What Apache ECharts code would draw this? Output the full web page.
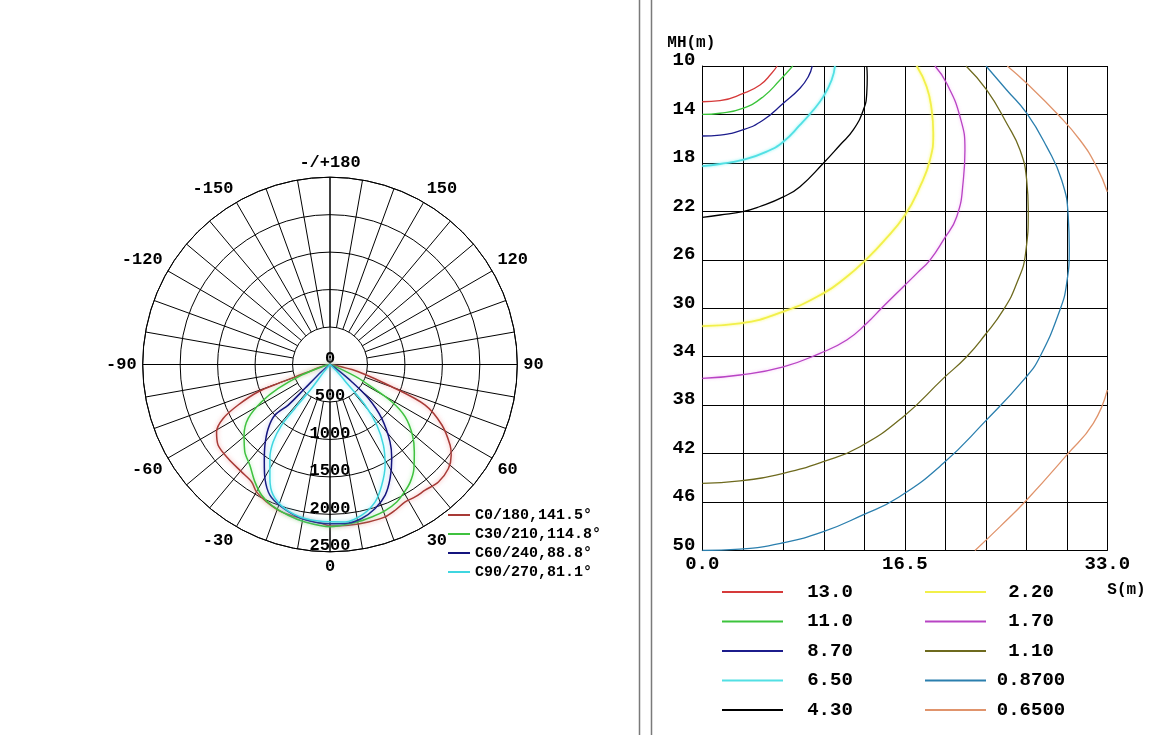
<!DOCTYPE html>
<html><head><meta charset="utf-8">
<script src="https://cdn.jsdelivr.net/npm/echarts@6/dist/echarts.min.js"></script>
<style>html,body{margin:0;padding:0;background:#fff}#c{width:1153px;height:735px}</style>
</head><body><div id="c"></div>
<script>
// ---------- Polar luminous-intensity curves: [gamma deg (0 = nadir, + = right side), intensity cd]
const c0_180 = [[-90,0],[-76,120],[-71,330],[-70,735],[-69.2,1025],[-66.2,1340],[-63.2,1598],[-59.3,1761],[-54.2,1841],[-47.3,1850],[-39.5,1857],[-33.7,1884],[-30,1963],[-24.8,2020],[-18.2,2071],[-10.4,2091],[-3,2126],[0,2155],[6.5,2160],[13.7,2163],[19.9,2163],[24.1,2131],[28.7,2090],[32.7,2101],[37.1,2104],[42.7,2134],[48.7,2104],[53.2,2020],[56.1,1932],[61.6,1698],[66.9,1381],[70.2,877],[75.7,390],[79,120],[90,0]];
const c30_210 = [[-90,0],[-75,100],[-69.6,404],[-65.3,761],[-61.4,1040],[-56.6,1308],[-50.6,1484],[-44.3,1628],[-38.5,1718],[-32.6,1860],[-27.6,1969],[-22.5,2034],[-15.5,2088],[-9,2128],[0,2165],[9,2135],[15.3,2110],[20.7,2085],[25.9,2040],[30.3,1970],[34.3,1900],[38.7,1790],[44,1620],[49.4,1450],[55.2,1220],[58.9,963],[62,600],[64.5,420],[68,120],[90,0]];
const c60_240 = [[-90,0],[-50,150],[-46.4,461],[-45.8,777],[-47.4,998],[-44,1187],[-38.9,1383],[-34,1568],[-29.7,1752],[-24.7,1920],[-18.8,2007],[-10.4,2091],[-3,2123],[0,2125],[5.4,2132],[11.6,2099],[17.4,2015],[22.9,1893],[27.8,1720],[33.3,1501],[37.8,1307],[43.8,997],[48.6,683],[51.6,370],[55,120],[90,0]];
const c90_270 = [[-90,0],[-40,120],[-37.6,401],[-38.6,750],[-38.6,1035],[-36.3,1281],[-32.6,1489],[-27.8,1720],[-23.5,1902],[-17.4,2015],[-9.2,2083],[0,2100],[5.5,2111],[11.9,2056],[18.2,1930],[23.2,1753],[28.7,1532],[33.5,1291],[37.7,1021],[40.8,715],[41.8,368],[45,120],[90,0]];
const polarNames = ['C0/180,141.5°','C30/210,114.8°','C60/240,88.8°','C90/270,81.1°'];
const polarColors = ['#a83a36','#3fc23f','#14147e','#3fd6e0'];
const polarGlow = ['rgba(240,120,120,0.7)','rgba(120,230,120,0.6)','rgba(90,90,200,0.4)','rgba(120,240,250,0.8)'];
const angleTickValues = [0,30,60,90,120,150,180,210,240,270,300,330];
const angleTickLabels = ['0','30','60','90','120','150','-/+180','-150','-120','-90','-60','-30'];

// ---------- Isolux curves: [S (m), MH (m)]
const isoNames = ['13.0','11.0','8.70','6.50','4.30','2.20','1.70','1.10','0.8700','0.6500'];
const isoColors = ['#d63a3a','#3cc43c','#1c1c8c','#52e0e4','#000000','#f2f04a','#b844c4','#6e6a1e','#2b7fae','#e0946c'];
const iso13_0 = [[0,12.95],[1.44,12.86],[3.34,12.26],[4.7,11.57],[5.65,10.6],[6.1,10]];
const iso11_0 = [[0,14.0],[1.44,13.9],[3.29,13.5],[4.97,12.53],[6.33,11.16],[7.37,10]];
const iso8_70 = [[0,15.78],[1.44,15.7],[3.29,15.28],[4.97,14.46],[6.6,13.08],[7.96,11.84],[8.64,10.88],[8.96,10]];
const iso6_50 = [[0,18.26],[1.44,18.09],[3.29,17.76],[5.25,17.07],[6.6,16.25],[7.96,14.87],[9.05,13.63],[9.86,12.53],[10.54,11.16],[10.81,10]];
const iso4_30 = [[0,22.49],[1.44,22.3],[3.29,22.03],[4.7,21.6],[6.6,20.8],[7.96,19.96],[9.86,18.03],[11.22,16.52],[12.3,15.28],[13.12,13.63],[13.4,12.25],[13.44,10.88],[13.4,10]];
const iso2_20 = [[0,31.47],[3.07,31.25],[6.6,30.28],[9.86,28.77],[11.77,27.4],[13.3,26.02],[14.75,24.5],[16.52,22.3],[17.74,19.96],[18.55,17.76],[18.82,15.56],[18.69,13.63],[18.28,11.71],[17.47,10]];
const iso1_70 = [[0,35.79],[3.07,35.51],[6.6,34.83],[9.59,33.72],[11.77,32.62],[13.4,31.24],[14.7,29.9],[16.38,28.22],[17.5,27.1],[18.55,26.02],[19.64,24.37],[20.73,22.44],[21.27,19.41],[21.4,16.94],[21.0,14.19],[19.91,11.43],[18.96,10]];
const iso1_10 = [[0,44.45],[3.07,44.26],[6.6,43.63],[9.86,42.67],[12.85,41.43],[16.38,38.95],[19.64,35.79],[21.54,34.0],[23.03,32.21],[24.53,30.14],[25.62,27.94],[26.35,25.4],[26.56,21.89],[26.43,19.41],[25.89,16.94],[24.8,14.73],[23.17,11.98],[21.49,10]];
const iso0_87 = [[0,50],[3.07,49.88],[6.6,49.36],[9.86,48.45],[13.0,47.1],[16.0,45.6],[19.64,42.8],[23.03,39.36],[26.29,35.79],[27.51,34.0],[29.14,30.14],[29.69,27.94],[29.9,25.0],[29.82,22.44],[29.28,19.41],[28.06,16.66],[26.43,13.9],[24.8,11.98],[23.12,10]];
const iso0_65_top = [[24.85,10],[26.43,11.43],[28.88,13.9],[30.77,16.11],[32.13,18.31],[33,20.38]];
const iso0_65_bottom = [[33,36.75],[31.86,39.5],[29.69,42.12],[26.43,45.83],[24.26,48.03],[22.22,50]];
const isoData = [iso13_0, iso11_0, iso8_70, iso6_50, iso4_30, iso2_20, iso1_70, iso1_10, iso0_87, iso0_65_top, iso0_65_bottom];
const isoSeriesLevel = [0,1,2,3,4,5,6,7,8,9,9];
const xTickLabels = ['0.0','16.5','33.0'];

const FONT = 'Liberation Mono';
const chart = echarts.init(document.getElementById('c'), null, {renderer:'canvas'});

const toPolar = pts => pts.map(p => [p[1], p[0] < 0 ? p[0] + 360 : p[0]]);
const polarSeries = [c0_180, c30_210, c60_240, c90_270].map((arr, i) => ({
  type:'line', name: polarNames[i], coordinateSystem:'polar', polarIndex:0,
  data: toPolar(arr), smooth:0.3, symbol:'none', silent:true,
  itemStyle:{color: polarColors[i]},
  lineStyle:{color: polarColors[i], width:1.5, shadowBlur:4, shadowColor: polarGlow[i]}
}));
const glowIdx = {3:'rgba(100,240,240,0.8)', 5:'rgba(250,250,100,0.9)', 6:'rgba(240,120,240,0.5)'};
const isoSeries = isoData.map((arr, k) => {
  const i = isoSeriesLevel[k];
  return {
    type:'line', name: isoNames[i], xAxisIndex:0, yAxisIndex:0,
    data: arr, smooth:0.5, symbol:'none', silent:true,
    itemStyle:{color: isoColors[i]},
    lineStyle:{color: isoColors[i], width: (i===3||i===5)?1.8:1.3, shadowBlur: glowIdx[i]?3:0, shadowColor: glowIdx[i]||'transparent'}
  };
});

const axisTxt = {color:'#000', fontFamily:FONT, fontWeight:'bold'};
const isoLegend = (names, left, boxW) => ({
  data:names, left:left, top:582, padding:0, orient:'vertical', itemWidth:61, itemHeight:2, itemGap:9.5,
  icon:'rect', selectedMode:false, formatter:'{a|{name}}',
  textStyle:{color:'#000', fontFamily:FONT, fontSize:19, fontWeight:'bold', lineHeight:20,
    rich:{a:{width:boxW, align:'center', fontFamily:FONT, fontSize:19, fontWeight:'bold', lineHeight:20}}}
});
const option = {
  animation:false,
  textStyle:{fontFamily:FONT},
  graphic:[
    {type:'line', shape:{x1:639.5,y1:0,x2:639.5,y2:735}, style:{stroke:'#7a7a7a', lineWidth:1.5}},
    {type:'line', shape:{x1:651.5,y1:0,x2:651.5,y2:735}, style:{stroke:'#7a7a7a', lineWidth:1.5}}
  ],
  polar:[
    {center:[330,364.5], radius:[0,187.3]},
    {center:[330,364.5], radius:[37.46,187.3]}
  ],
  angleAxis:[
    {polarIndex:0, type:'value', min:0, max:360, interval:90, startAngle:270, clockwise:false,
     axisLine:{show:true, lineStyle:{color:'#000', width:1}}, axisTick:{show:false}, axisLabel:{show:false},
     splitLine:{show:true, lineStyle:{color:'#000', width:1}}},
    {polarIndex:1, type:'value', min:0, max:360, interval:10, startAngle:270, clockwise:false,
     axisLine:{show:false}, axisTick:{show:false},
     axisLabel:Object.assign({show:true, margin:6, fontSize:17, formatter: v => {
        const j = angleTickValues.indexOf(v); return j >= 0 ? angleTickLabels[j] : ''; }}, axisTxt),
     splitLine:{show:true, lineStyle:{color:'#000', width:1}}}
  ],
  radiusAxis:[
    {polarIndex:0, type:'value', min:0, max:2500, interval:500,
     axisLine:{show:false}, axisTick:{show:false},
     splitLine:{show:true, lineStyle:{color:'#000', width:1}},
     axisLabel:Object.assign({show:true, margin:0, fontSize:17, align:'center', verticalAlign:'bottom', lineHeight:12,
       formatter: v => String(v)}, axisTxt)},
    {polarIndex:1, type:'value', min:0, max:2500, show:false}
  ],
  grid:{left:702.3, top:66, width:405, height:484.5, containLabel:false},
  xAxis:{type:'value', min:0, max:33, interval:3.3, name:'S(m)', nameLocation:'end', nameGap:0,
    nameTextStyle:Object.assign({fontSize:16, align:'left', verticalAlign:'top', padding:[31,0,0,0]}, axisTxt),
    axisLine:{show:true, onZero:false, lineStyle:{color:'#000'}}, axisTick:{show:false},
    splitLine:{show:true, lineStyle:{color:'#000', width:1}},
    axisLabel:Object.assign({fontSize:19, margin:4, showMinLabel:true, showMaxLabel:true, formatter: v => {
      const t = Math.round(v*10)/10; const j = [0,16.5,33].indexOf(t); return j >= 0 ? xTickLabels[j] : ''; }}, axisTxt)},
  yAxis:{type:'value', inverse:true, min:10, max:50, interval:4, name:'MH(m)', nameLocation:'start', nameGap:5,
    nameTextStyle:Object.assign({fontSize:16, align:'center', padding:[0,22,0,0]}, axisTxt),
    axisLine:{show:true, onZero:false, lineStyle:{color:'#000'}}, axisTick:{show:false},
    splitLine:{show:true, lineStyle:{color:'#000', width:1}},
    axisLabel:Object.assign({fontSize:19, margin:7, verticalAlign:'bottom', lineHeight:11}, axisTxt)},
  legend:[
    {data:polarNames, left:448, top:505.5, padding:0, orient:'vertical', itemWidth:22, itemHeight:2, itemGap:0,
     icon:'rect', selectedMode:false, textStyle:{color:'#000', fontFamily:FONT, fontSize:15, fontWeight:'bold', lineHeight:19}},
    isoLegend(isoNames.slice(0,5), 722, 84),
    isoLegend(isoNames.slice(5), 925, 80)
  ],
  series: polarSeries.concat(isoSeries)
};
chart.setOption(option);
</script></body></html>
